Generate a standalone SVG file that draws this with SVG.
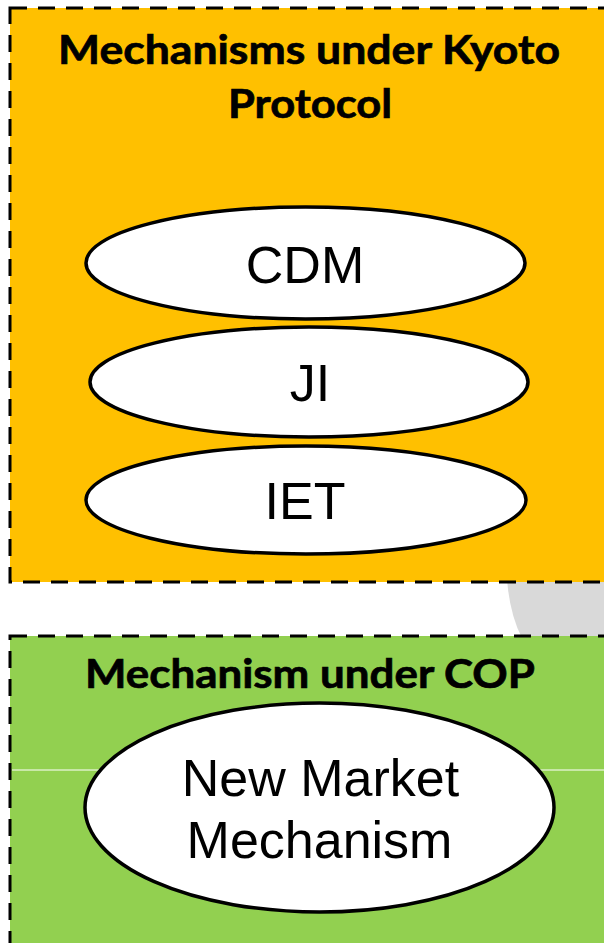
<svg xmlns="http://www.w3.org/2000/svg" width="604" height="943" viewBox="0 0 604 943">
<style>
.box{stroke:#000;stroke-width:3;stroke-dasharray:17 11}
.ell{fill:#fff;stroke:#000;stroke-width:3.5}
.title{font-family:Lato,"Open Sans","Liberation Sans",sans-serif;font-weight:bold;font-size:41px;fill:#000;stroke:#000;stroke-width:0.7;text-anchor:middle}
.lbl{font-family:"Liberation Sans",Arial,sans-serif;font-size:52px;fill:#000;text-anchor:middle}
</style>
<rect x="0" y="0" width="604" height="943" fill="#fff"/>
<path d="M507,580 Q510,615 522,638 L610,638 L610,580 Z" fill="#D9D9D9"/>
<g id="kyoto">
<rect class="box" x="10" y="8" width="610" height="574" fill="#FFC000"/>
<text class="title" x="309" y="64" textLength="502" lengthAdjust="spacingAndGlyphs">Mechanisms under Kyoto</text>
<text class="title" x="310" y="118" textLength="164" lengthAdjust="spacingAndGlyphs">Protocol</text>
</g>
<g id="cop">
<rect class="box" x="10" y="636" width="610" height="330" fill="#92D050"/>
<line x1="12" y1="770" x2="604" y2="770" stroke="#fff" stroke-width="1"/>
<text class="title" x="310" y="688" textLength="450" lengthAdjust="spacingAndGlyphs">Mechanism under COP</text>
</g>
<g id="cdm">
<ellipse class="ell" cx="305.5" cy="263" rx="219.5" ry="56"/>
<text class="lbl" x="305" y="283">CDM</text>
</g>
<g id="ji">
<ellipse class="ell" cx="309" cy="382" rx="219" ry="55"/>
<text class="lbl" x="310" y="401">JI</text>
</g>
<g id="iet">
<ellipse class="ell" cx="306" cy="500" rx="220" ry="54"/>
<text class="lbl" x="305" y="519">IET</text>
</g>
<g id="nmm">
<ellipse class="ell" cx="319.5" cy="807.5" rx="234.5" ry="104.5"/>
<text class="lbl" x="320.5" y="796">New Market</text>
<text class="lbl" x="319.5" y="858">Mechanism</text>
</g>
<g id="connectors"></g>
</svg>
